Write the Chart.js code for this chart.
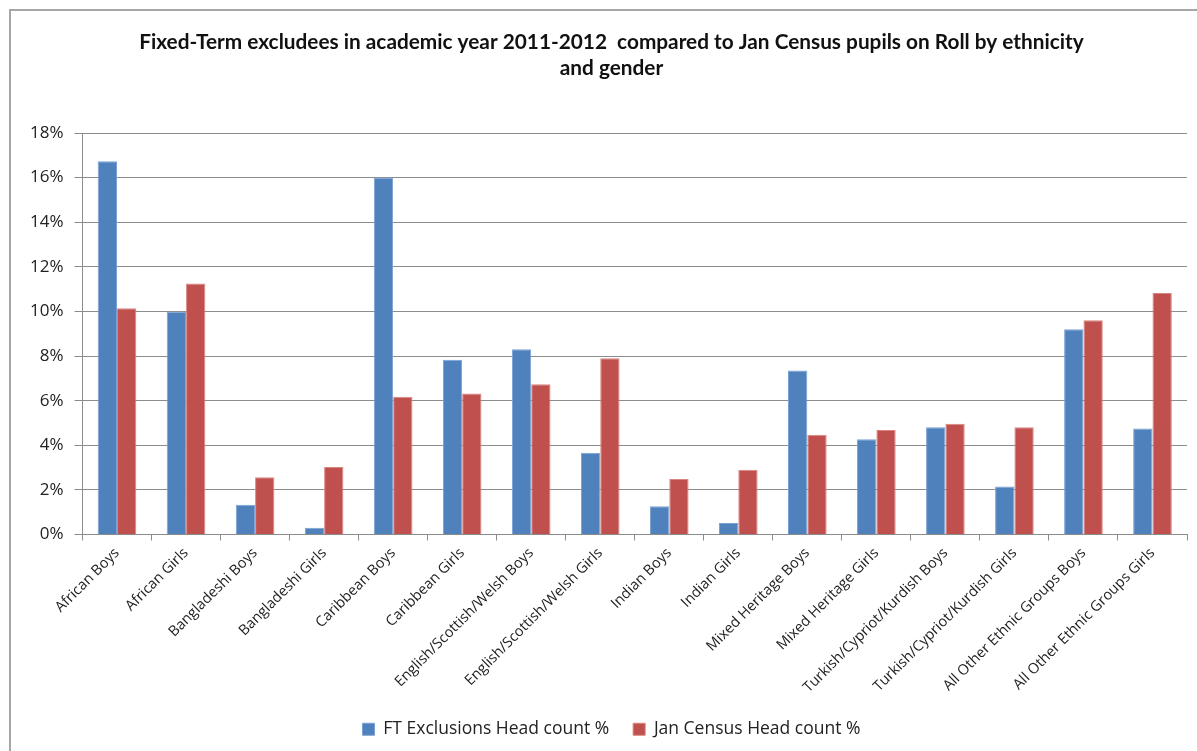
<!DOCTYPE html>
<html>
<head>
<meta charset="utf-8">
<script src="https://cdn.jsdelivr.net/npm/chart.js@4"></script>
<style>
  html, body { margin: 0; padding: 0; background: #fff; overflow: hidden; }
  #wrap { position: absolute; left: 0; top: 0; width: 1220px; height: 751px; }
</style>
</head>
<body>
<div id="wrap"><canvas id="chart" width="1220" height="751"></canvas></div>
<script>
var groups = [
  'African Boys', 'African Girls', 'Bangladeshi Boys', 'Bangladeshi Girls',
  'Caribbean Boys', 'Caribbean Girls', 'English/Scottish/Welsh Boys', 'English/Scottish/Welsh Girls',
  'Indian Boys', 'Indian Girls', 'Mixed Heritage Boys', 'Mixed Heritage Girls',
  'Turkish/Cypriot/Kurdish Boys', 'Turkish/Cypriot/Kurdish Girls',
  'All Other Ethnic Groups Boys', 'All Other Ethnic Groups Girls'
]
// percentages
var ftExclusions = [16.73, 9.99, 1.33, 0.30, 16.01, 7.83, 8.31, 3.66, 1.27, 0.51, 7.35, 4.27, 4.81, 2.15, 9.20, 4.75]
var janCensus = [10.14, 11.25, 2.57, 3.03, 6.18, 6.32, 6.74, 7.90, 2.49, 2.90, 4.47, 4.68, 4.96, 4.81, 9.61, 10.83]
var seriesNames = ['FT Exclusions Head count %', 'Jan Census Head count %']

var titleLines = [
  'Fixed-Term excludees in academic year 2011-2012  compared to Jan Census pupils on Roll by ethnicity',
  'and gender'
]

var fontFamily = '"Open Sans", "Noto Sans", sans-serif'

// grey frame round the chart (left and top edges only are visible)
var framePlugin = {
  id: 'frame',
  beforeDraw: function(chart) {
    var c = chart.ctx
    c.save()
    c.strokeStyle = '#a6a6a6'
    c.lineWidth = 2
    c.beginPath()
    c.moveTo(10, chart.height + 5)
    c.lineTo(10, 10)
    c.lineTo(chart.width + 5, 10)
    c.stroke()
    c.restore()
  }
}

// centre title and legend on the whole frame, not on the padded box
var centrePlugin = {
  id: 'centre',
  afterLayout: function(chart) {
    chart.titleBlock.left += 17
    chart.legend.left += 17
  }
}

var ctx = document.getElementById('chart').getContext('2d')
var chart = new Chart(ctx, {
  type: 'bar',
  data: {
    labels: groups,
    datasets: [{
      label: seriesNames[0],
      data: ftExclusions,
      backgroundColor: '#4f81bd',
      borderColor: '#7aa0d4',
      borderWidth: 1
    }, {
      label: seriesNames[1],
      data: janCensus,
      backgroundColor: '#c0504d',
      borderColor: '#d88582',
      borderWidth: 1
    }]
  },
  options: {
    responsive: false,
    animation: false,
    layout: {
      padding: { left: 19, right: 33, top: 29, bottom: 3 }
    },
    datasets: {
      bar: { categoryPercentage: 0.56, barPercentage: 1.0 }
    },
    scales: {
      x: {
        grid: {
          display: true,
          drawOnChartArea: false,
          color: '#8c8c8c',
          tickLength: 6
        },
        border: { color: '#8c8c8c', width: 1 },
        ticks: {
          minRotation: 45,
          maxRotation: 45,
          color: '#222',
          padding: 4,
          font: { family: fontFamily, size: 14.5 }
        },
        // fixed band for the slanted labels
        afterFit: function(scale) { scale.height = 162 }
      },
      y: {
        min: 0,
        max: 18,
        ticks: {
          stepSize: 2,
          color: '#222',
          padding: 11,
          font: { family: fontFamily, size: 17 },
          callback: function(v) { return v + '%' }
        },
        grid: {
          color: '#8c8c8c',
          tickLength: 8
        },
        border: { color: '#8c8c8c', width: 1 }
      }
    },
    plugins: {
      title: {
        display: true,
        text: titleLines,
        color: '#111',
        font: { family: 'Lato, sans-serif', size: 20.8, weight: 'bold', lineHeight: 1.25 },
        padding: { top: 0, bottom: 52 }
      },
      legend: {
        position: 'bottom',
        labels: {
          boxWidth: 12,
          boxHeight: 12,
          padding: 24,
          color: '#222',
          font: { family: fontFamily, size: 17.5 }
        }
      },
      tooltip: { enabled: false }
    }
  },
  plugins: [framePlugin, centrePlugin]
})
</script>
</body>
</html>
